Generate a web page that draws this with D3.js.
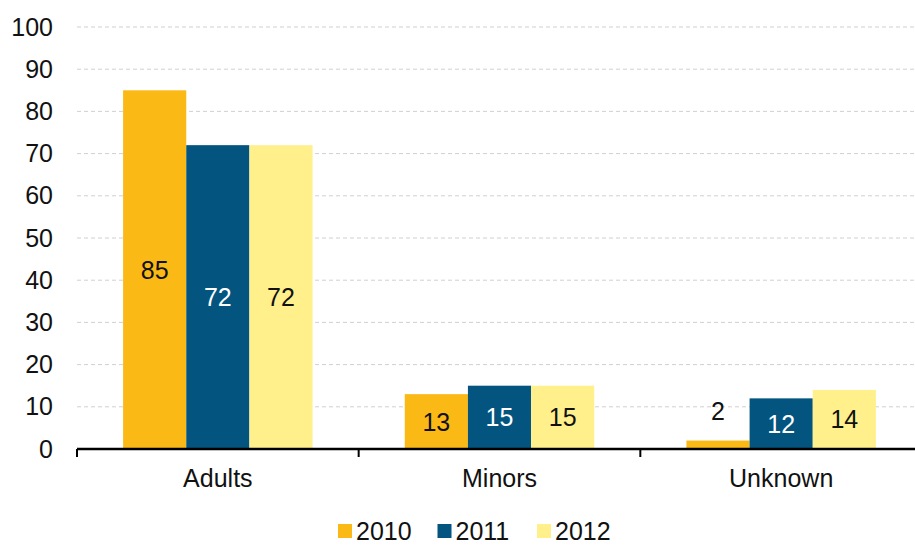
<!DOCTYPE html>
<html>
<head>
	<meta charset="utf-8">
	<script src="https://d3js.org/d3.v7.min.js"></script>
	<style>
		body { margin: 0; background: #fff; }
		text { font-family: "Liberation Sans", Arial, sans-serif; }
	</style>
</head>
<body>
	<div id="chart"></div>
	<script>
		// data
		var categories = ['Adults', 'Minors', 'Unknown'];
		var years = ['2010', '2011', '2012'];
		var values2010 = [85, 13, 2];
		var values2011 = [72, 15, 12];
		var values2012 = [72, 15, 14];
		var yTicks = [0, 10, 20, 30, 40, 50, 60, 70, 80, 90, 100];

		var colors = ['#fbb916', '#03557f', '#fff08c'];
		var labelColors = ['#111', '#fff', '#111'];

		var W = 915, H = 547;
		var margin = { top: 27, bottom: 98, left: 77, right: -7 };
		var fontSize = '25px';

		var svg = d3.select('#chart').append('svg')
			.attr('width', W)
			.attr('height', H);

		var series = [values2010, values2011, values2012];

		// scales
		var xScale = d3.scaleBand()
			.domain(categories)
			.range([margin.left, W - margin.right]);

		var inner = d3.scaleBand()
			.domain(years)
			.range([0, xScale.bandwidth()])
			.paddingOuter(0.73)
			.paddingInner(0);

		var yScale = d3.scaleLinear()
			.domain([0, 100])
			.range([H - margin.bottom, margin.top]);

		// grid lines
		svg.append('g')
			.selectAll('line')
			.data(yTicks.filter(d => d > 0))
			.enter()
			.append('line')
			.attr('x1', margin.left)
			.attr('x2', W)
			.attr('y1', d => yScale(d))
			.attr('y2', d => yScale(d))
			.style('stroke', '#d0d0d0')
			.style('stroke-width', 1)
			.style('stroke-dasharray', '4,3');

		// y axis labels
		var yAxis = d3.axisLeft(yScale)
			.tickValues(yTicks)
			.tickSize(0)
			.tickPadding(24);
		var yGuide = svg.append('g')
			.attr('transform', 'translate(' + margin.left + ',0)')
			.call(yAxis);
		yGuide.select('.domain').remove();
		yGuide.selectAll('text')
			.style('font-size', fontSize)
			.style('fill', '#111');

		// bars
		var rows = [];
		categories.forEach(function(c, i) {
			years.forEach(function(y, j) {
				rows.push({ cat: c, year: y, j: j, value: series[j][i] });
			});
		});

		svg.append('g')
			.selectAll('rect')
			.data(rows)
			.enter()
			.append('rect')
			.attr('x', d => xScale(d.cat) + inner(d.year))
			.attr('width', inner.bandwidth())
			.attr('y', d => yScale(d.value))
			.attr('height', d => yScale(0) - yScale(d.value))
			.style('fill', d => colors[d.j]);

		// value labels
		svg.append('g')
			.selectAll('text')
			.data(rows)
			.enter()
			.append('text')
			.attr('x', d => xScale(d.cat) + inner(d.year) + inner.bandwidth() / 2)
			.attr('y', function(d) {
				if (d.value < 5) return yScale(d.value) - 30;
				return (yScale(d.value) + yScale(0)) / 2;
			})
			.attr('dy', '0.36em')
			.attr('text-anchor', 'middle')
			.style('font-size', fontSize)
			.style('fill', d => d.value < 5 ? '#111' : labelColors[d.j])
			.text(d => d.value);

		// x axis
		var xAxis = d3.axisBottom(xScale)
			.tickSize(0)
			.tickPadding(20);
		var xGuide = svg.append('g')
			.attr('transform', 'translate(0,' + yScale(0) + ')')
			.call(xAxis);
		xGuide.select('.domain').remove();
		xGuide.selectAll('text')
			.style('font-size', fontSize)
			.style('fill', '#111');

		svg.append('line')
			.attr('x1', margin.left)
			.attr('x2', W)
			.attr('y1', yScale(0))
			.attr('y2', yScale(0))
			.style('stroke', '#000')
			.style('stroke-width', 2.5);

		// category separators
		svg.append('g')
			.selectAll('line')
			.data(categories)
			.enter()
			.append('line')
			.attr('x1', d => xScale(d))
			.attr('x2', d => xScale(d))
			.attr('y1', yScale(0))
			.attr('y2', yScale(0) + 8)
			.style('stroke', '#000')
			.style('stroke-width', 2);

		// legend
		var legend = svg.append('g')
			.attr('transform', 'translate(338,524)');
		var item = legend.selectAll('g')
			.data(years)
			.enter()
			.append('g')
			.attr('transform', (d, i) => 'translate(' + (i * 99.5) + ',0)');
		item.append('rect')
			.attr('width', 14)
			.attr('height', 14)
			.style('fill', (d, i) => colors[i]);
		item.append('text')
			.attr('x', 18)
			.attr('y', 7)
			.attr('dy', '0.36em')
			.style('font-size', fontSize)
			.style('fill', '#111')
			.text(d => d);
	</script>
</body>
</html>
